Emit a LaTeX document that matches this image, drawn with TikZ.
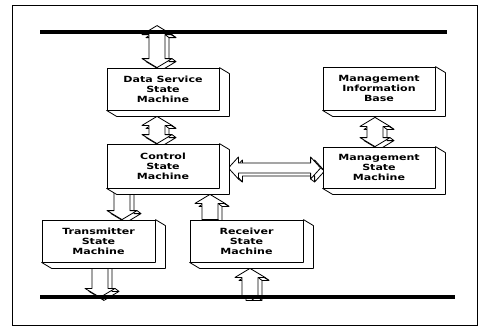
\documentclass[tikz,border=0pt]{standalone}
\usepackage{fontspec}
\newfontfamily\boxfont[FakeStretch=1.3]{DejaVu Sans}
\usetikzlibrary{calc,backgrounds}
\tikzset{
  box/.style={draw=black, line width=0.8pt, fill=white, align=center, inner sep=0pt,
    font=\boxfont\bfseries\fontsize{8.5}{10}\selectfont},
  side/.style={draw=black, line width=0.8pt, fill=white, line join=round},
  arr/.style={draw=black, line width=0.8pt, fill=white, line join=round},
  bus/.style={line width=3.2pt},
  frame/.style={line width=0.8pt}
}
\newcommand\boxdepth[1]{\draw[side] (#1.north east) -- ++(10,6) -- ($(#1.south east)+(10,6)$) -- ($(#1.south west)+(10,6)$) -- (#1.south west) -- (#1.south east) -- cycle;}
% vertical block arrow: #1 top, #2 bottom, #3 top head length, #4 top head half width, #5 bottom head length, #6 bottom head half width
\newcommand\varrow[6]{%
  \foreach \dx/\dy in {4pt/3pt,0pt/0pt}{%
    \draw[arr] let \p1=(#1), \p2=(#2) in
      (\x1+\dx,\y1-\dy) -- (\x1+#4+\dx,\y1-#3-\dy) -- (\x1+8pt+\dx,\y1-#3-\dy)
      -- (\x1+8pt+\dx,\y2+#5-\dy) -- (\x1+#6+\dx,\y2+#5-\dy) -- (\x1+\dx,\y2-\dy)
      -- (\x1-#6+\dx,\y2+#5-\dy) -- (\x1-8pt+\dx,\y2+#5-\dy) -- (\x1-8pt+\dx,\y1-#3-\dy)
      -- (\x1-#4+\dx,\y1-#3-\dy) -- cycle;
    \ifdim\dx>0pt
      \draw[arr,fill=none] let \p1=(#1), \p2=(#2) in
        (\x1+#4,\y1-#3) -- ++(4pt,-3pt)
        (\x1+8pt,\y1-#3) -- ++(4pt,-3pt)
        (\x1,\y1) -- ++(4pt,-3pt)
        (\x1+#6,\y2+#5) -- ++(4pt,-3pt)
        (\x1,\y2) -- ++(4pt,-3pt);
    \fi
  }}
% horizontal double block arrow: #1 left tip, #2 right tip
\newcommand\harrow[2]{%
  \foreach \dx/\dy in {4pt/3pt,0pt/0pt}{%
    \draw[arr] let \p1=(#1), \p2=(#2) in
      (\x1+\dx,\y1-\dy) -- (\x1+10pt+\dx,\y1+11pt-\dy) -- (\x1+10pt+\dx,\y1+5pt-\dy)
      -- (\x2-10pt+\dx,\y1+5pt-\dy) -- (\x2-10pt+\dx,\y1+11pt-\dy) -- (\x2+\dx,\y1-\dy)
      -- (\x2-10pt+\dx,\y1-11pt-\dy) -- (\x2-10pt+\dx,\y1-5pt-\dy) -- (\x1+10pt+\dx,\y1-5pt-\dy)
      -- (\x1+10pt+\dx,\y1-11pt-\dy) -- cycle;
    \ifdim\dx>0pt
      \draw[arr,fill=none] let \p1=(#1), \p2=(#2) in
        (\x1,\y1) -- ++(4pt,-3pt)
        (\x1+10pt,\y1-11pt) -- ++(4pt,-3pt)
        (\x2,\y1) -- ++(4pt,-3pt)
        (\x2-10pt,\y1-11pt) -- ++(4pt,-3pt)
        (\x2-10pt,\y1-5pt) -- ++(4pt,-3pt);
    \fi
  }}
\begin{document}
\begin{tikzpicture}[x=1pt,y=-1pt]
\useasboundingbox (0,0) rectangle (480,327);
% boxes
\node[box, minimum width=112pt, minimum height=42pt] (ds) at (163,89) {Data Service\\State\\Machine};
\node[box, minimum width=112pt, minimum height=44pt] (ctrl) at (163,166) {Control\\State\\Machine};
\node[box, minimum width=112pt, minimum height=43pt] (mib) at (379,88.5) {Management\\Information\\Base};
\node[box, minimum width=112pt, minimum height=41pt] (msm) at (379,167.5) {Management\\State\\Machine};
\node[box, minimum width=113pt, minimum height=42pt] (tx) at (98.5,241) {Transmitter\\State\\Machine};
\node[box, minimum width=113pt, minimum height=42pt] (rx) at (246.5,241) {Receiver\\State\\Machine};
\boxdepth{ds}\boxdepth{ctrl}\boxdepth{mib}\boxdepth{msm}\boxdepth{tx}\boxdepth{rx}
% buses
\coordinate (tl) at (40,32);
\coordinate (tr) at (447,32);
\coordinate (bl) at (40,297);
\coordinate (br) at (455,297);
\draw[bus] (tl) -- (tr);
\draw[bus] (bl) -- (br);
% arrow end points
\coordinate (a1t) at ($(ds.north)+(-6,-42)$);
\coordinate (a1b) at ($(ds.north)+(-6,0)$);
\coordinate (a2t) at ($(ds.south)+(-6,6)$);
\coordinate (a2b) at ($(ctrl.north)+(-6,0)$);
\coordinate (a3t) at ($(mib.south)+(-4,7)$);
\coordinate (a3b) at ($(msm.north)+(-4,0)$);
\coordinate (a4t) at ($(ctrl.south)+(-41,0)$);
\coordinate (a4b) at ($(tx.north)+(23.5,0)$);
\coordinate (a5t) at ($(ctrl.south)+(47,6)$);
\coordinate (a5b) at ($(rx.north)+(-36.5,0)$);
\coordinate (a6t) at ($(tx.south)+(1.5,0)$);
\coordinate (a6b) at ($(tx.south)+(1.5,35)$);
\coordinate (a7t) at ($(rx.south)+(3.5,6)$);
\coordinate (a7b) at ($(rx.south)+(3.5,35)$);
\coordinate (a8l) at ($(ctrl.east)+(9,2)$);
\coordinate (a8r) at ($(msm.west)+(-2,0.5)$);
\begin{pgfonlayer}{background}
\draw[frame] (12,5) rectangle (477,325);
\varrow{a1t}{a1b}{9pt}{15pt}{9pt}{15pt}
\varrow{a2t}{a2b}{9pt}{15pt}{9pt}{15pt}
\varrow{a3t}{a3b}{9pt}{15pt}{9pt}{15pt}
\varrow{a4t}{a4b}{0pt}{8pt}{9pt}{15pt}
\varrow{a5t}{a5b}{9pt}{15pt}{0pt}{8pt}
\varrow{a6t}{a6b}{0pt}{8pt}{9pt}{15pt}
\varrow{a7t}{a7b}{9pt}{15pt}{0pt}{8pt}
\harrow{a8l}{a8r}
\end{pgfonlayer}
\end{tikzpicture}
\end{document}
